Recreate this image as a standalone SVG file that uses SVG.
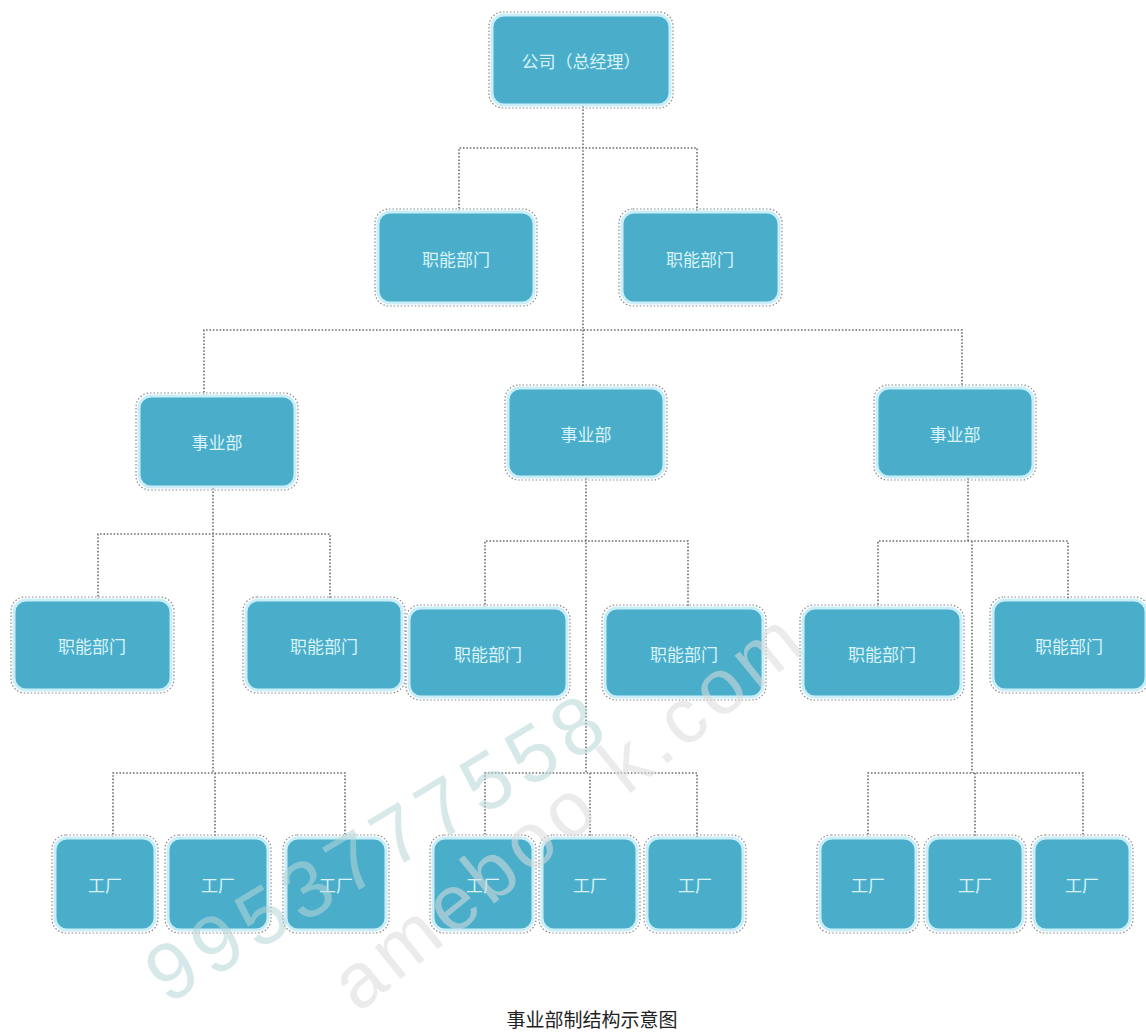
<svg xmlns="http://www.w3.org/2000/svg" width="1146" height="1033" viewBox="0 0 1146 1033">
<defs>
<style>
.box{fill:#4aaecb;stroke:#c9eef8;stroke-width:3}
.halo{fill:none;stroke:#8a8a8a;stroke-width:1.2;stroke-dasharray:1.5 2}
.lbl{font-family:"Noto Sans CJK SC","Noto Sans",sans-serif;font-size:17px;fill:#d9f3f9;text-anchor:middle;dominant-baseline:central}
.conn{fill:none;stroke:#6e6e6e;stroke-width:1.6;stroke-dasharray:1.6 1.8}
.wm{font-family:"Liberation Sans",sans-serif;text-anchor:middle}
</style>
</defs>
<rect width="1146" height="1033" fill="#ffffff"/>
<g id="connectors" class="conn">
<path d="M583 106V330M459 212V148H697V212"/>
<path d="M204 396V330H962V388M583 330V388"/>
<path d="M213 488V773M98 600V534H330V600M113 838V773H345V838M215 773V838"/>
<path d="M586 478V773M485 608V541H688V608M485 838V773H697V838M590 773V838"/>
<path d="M968 478V541M972 541V773M878 608V541H1068V600M868 838V773H1083V838M975 773V838"/>
</g>
<g id="n-top"><rect class="halo" x="489" y="12" width="184" height="96" rx="14"/><rect class="box" x="492" y="15" width="178" height="90" rx="12"/><text class="lbl" x="581" y="60">公司（总经理）</text></g>
<g id="n-f1"><rect class="halo" x="375" y="209" width="162" height="97" rx="14"/><rect class="box" x="378" y="212" width="156" height="91" rx="12"/><text class="lbl" x="456" y="258">职能部门</text></g>
<g id="n-f2"><rect class="halo" x="619" y="209" width="163" height="97" rx="14"/><rect class="box" x="622" y="212" width="157" height="91" rx="12"/><text class="lbl" x="700" y="258">职能部门</text></g>
<g id="n-d1"><rect class="halo" x="136" y="393" width="162" height="97" rx="14"/><rect class="box" x="139" y="396" width="156" height="91" rx="12"/><text class="lbl" x="217" y="441">事业部</text></g>
<g id="n-d2"><rect class="halo" x="505" y="385" width="162" height="95" rx="14"/><rect class="box" x="508" y="388" width="156" height="89" rx="12"/><text class="lbl" x="586" y="433">事业部</text></g>
<g id="n-d3"><rect class="halo" x="874" y="385" width="162" height="95" rx="14"/><rect class="box" x="877" y="388" width="156" height="89" rx="12"/><text class="lbl" x="955" y="433">事业部</text></g>
<g id="n-f3"><rect class="halo" x="11" y="597" width="163" height="96" rx="14"/><rect class="box" x="14" y="600" width="157" height="90" rx="12"/><text class="lbl" x="92" y="645">职能部门</text></g>
<g id="n-f4"><rect class="halo" x="243" y="597" width="162" height="96" rx="14"/><rect class="box" x="246" y="600" width="156" height="90" rx="12"/><text class="lbl" x="324" y="645">职能部门</text></g>
<g id="n-f5"><rect class="halo" x="406" y="605" width="164" height="95" rx="14"/><rect class="box" x="409" y="608" width="158" height="89" rx="12"/><text class="lbl" x="488" y="653">职能部门</text></g>
<g id="n-f6"><rect class="halo" x="602" y="605" width="164" height="95" rx="14"/><rect class="box" x="605" y="608" width="158" height="89" rx="12"/><text class="lbl" x="684" y="653">职能部门</text></g>
<g id="n-f7"><rect class="halo" x="800" y="605" width="164" height="95" rx="14"/><rect class="box" x="803" y="608" width="158" height="89" rx="12"/><text class="lbl" x="882" y="653">职能部门</text></g>
<g id="n-f8"><rect class="halo" x="990" y="597" width="159" height="96" rx="14"/><rect class="box" x="993" y="600" width="153" height="90" rx="12"/><text class="lbl" x="1069" y="645">职能部门</text></g>
<g id="n-p1"><rect class="halo" x="52" y="835" width="106" height="98" rx="14"/><rect class="box" x="55" y="838" width="100" height="92" rx="12"/><text class="lbl" x="105" y="884">工厂</text></g>
<g id="n-p2"><rect class="halo" x="165" y="835" width="106" height="98" rx="14"/><rect class="box" x="168" y="838" width="100" height="92" rx="12"/><text class="lbl" x="218" y="884">工厂</text></g>
<g id="n-p3"><rect class="halo" x="283" y="835" width="106" height="98" rx="14"/><rect class="box" x="286" y="838" width="100" height="92" rx="12"/><text class="lbl" x="336" y="884">工厂</text></g>
<g id="n-p4"><rect class="halo" x="430" y="835" width="106" height="98" rx="14"/><rect class="box" x="433" y="838" width="100" height="92" rx="12"/><text class="lbl" x="483" y="884">工厂</text></g>
<g id="n-p5"><rect class="halo" x="539" y="835" width="101" height="98" rx="14"/><rect class="box" x="542" y="838" width="95" height="92" rx="12"/><text class="lbl" x="590" y="884">工厂</text></g>
<g id="n-p6"><rect class="halo" x="644" y="835" width="102" height="98" rx="14"/><rect class="box" x="647" y="838" width="96" height="92" rx="12"/><text class="lbl" x="695" y="884">工厂</text></g>
<g id="n-p7"><rect class="halo" x="817" y="835" width="102" height="98" rx="14"/><rect class="box" x="820" y="838" width="96" height="92" rx="12"/><text class="lbl" x="868" y="884">工厂</text></g>
<g id="n-p8"><rect class="halo" x="924" y="835" width="102" height="98" rx="14"/><rect class="box" x="927" y="838" width="96" height="92" rx="12"/><text class="lbl" x="975" y="884">工厂</text></g>
<g id="n-p9"><rect class="halo" x="1031" y="835" width="102" height="98" rx="14"/><rect class="box" x="1034" y="838" width="96" height="92" rx="12"/><text class="lbl" x="1082" y="884">工厂</text></g>
<text x="592" y="1018" font-family="'Noto Sans CJK SC',sans-serif" font-size="19" fill="#222" text-anchor="middle" dominant-baseline="central">事业部制结构示意图</text>
<g class="wm" opacity="0.55">
<text x="392" y="870" font-size="80" letter-spacing="8" transform="rotate(-31 392 870)" fill="#b7d6d6">9953777558</text>
<text x="585" y="830" font-size="78" letter-spacing="6" transform="rotate(-39 585 830)" fill="#dcdcdc">ameboo k.com</text>
</g>
</svg>
